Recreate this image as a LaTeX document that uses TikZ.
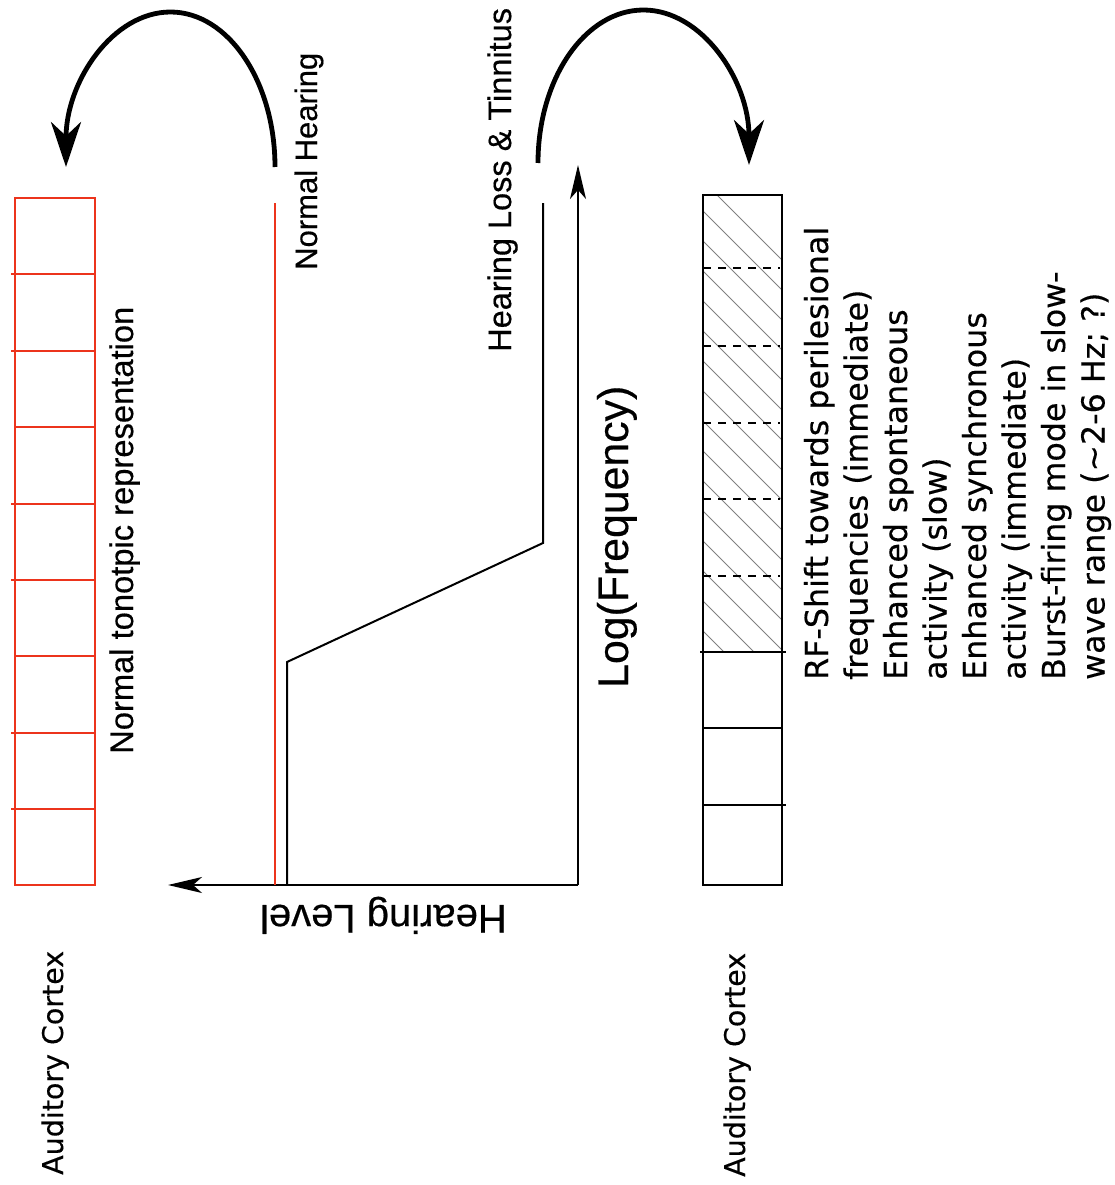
\documentclass[tikz,border=0pt]{standalone}
\usepackage{fontspec}
\setmainfont{Liberation Sans}[FakeBold=0.4]
\newfontfamily\cortexfont{DejaVu Sans}[FakeBold=0.3]
\usetikzlibrary{arrows.meta}
\definecolor{tonored}{RGB}{236,52,28}
\tikzset{
  cell/.style={tonored, line width=2pt},
  lbl/.style={inner sep=0pt, font=\fontsize{31}{37}\selectfont},
  ctx/.style={inner sep=0pt, font=\cortexfont\fontsize{28.5}{34}\selectfont},
  blk/.style={inner sep=0pt, font=\cortexfont\fontsize{31.7}{37}\selectfont},
  bigarrow/.style={line width=4.8pt, -{Stealth[length=45pt,width=30pt,inset=14pt]}},
  axis/.style={line width=1.9pt, -{Stealth[length=34pt,width=16pt,inset=9pt]}},
  hatch/.style={gray, line width=0.8pt},
  divide/.style={line width=1.7pt, dash pattern=on 8pt off 7pt},
}

\begin{document}
\begin{tikzpicture}[x=1pt, y=-1pt]
\useasboundingbox (0,0) rectangle (1115,1185);

\draw[cell] (15,198) rectangle (95,885);
\foreach \k/\s in {1/11, 2/11, 3/15, 4/11, 5/11, 6/15, 7/11, 8/11}
  \draw[cell] (\s,{198+76.375*\k}) -- (95,{198+76.375*\k});

\begin{scope}
\clip (703,195) rectangle (782,652);
\foreach \k in {0,...,16} \draw[hatch] ({717-30*\k},195) -- ++(460,460);
\end{scope}
\draw[line width=2.2pt] (703,195) rectangle (782,885);
\foreach \yy in {268, 346, 423, 499, 576} \draw[divide] (703,\yy) -- (780,\yy);
\draw[line width=2.2pt] (700,652) -- (786,652);
\draw[line width=2.2pt] (703,728) -- (782,728);
\draw[line width=2.2pt] (703,805) -- (786,805);

\coordinate (origin) at (578,885);
\coordinate (hlend) at (168,885);
\coordinate (fend) at (578,165);
\draw[axis] (origin) -- (hlend);
\draw[axis] (origin) -- (fend);

\coordinate (nhlow) at (275,885);
\coordinate (nhhigh) at (275,203);
\draw[tonored, line width=2pt] (nhlow) -- (nhhigh);
\coordinate (hllow) at (287,885);
\coordinate (hlknee) at (287,662);
\coordinate (hlbend) at (543,543);
\coordinate (hlhigh) at (543,203);
\draw[line width=2pt] (hllow) -- (hlknee) -- (hlbend) -- (hlhigh);

\coordinate (nhstart) at (275,167);
\coordinate (nhtop) at (170.5,12);
\coordinate (nhtip) at (66,167);
\draw[bigarrow] (nhstart) .. controls (275,81.4) and (228.2,12) .. (nhtop)
  .. controls (112.8,12) and (66,81.4) .. (nhtip);
\coordinate (tinstart) at (538,163);
\coordinate (tintop) at (643.5,10);
\coordinate (tintip) at (749,165);
\draw[bigarrow] (tinstart) .. controls (538,78.5) and (585.2,10) .. (tintop)
  .. controls (701.8,10) and (749,80) .. (tintip);

\node[lbl, rotate=90, anchor=base west] (nhlbl) at (317,270) {Normal Hearing};
\node[lbl, font=\fontsize{32.5}{37}\selectfont, rotate=90, anchor=base west] (tinlbl) at (511,352) {Hearing Loss \& Tinnitus};
\node[lbl, font=\fontsize{32.7}{37}\selectfont, rotate=90, anchor=base west] (tonolbl) at (133,754) {Normal tonotpic representation};
\node[lbl, font=\fontsize{42.8}{48}\selectfont, rotate=90, anchor=base west] (freqlbl) at (628,688) {Log(Frequency)};
\node[lbl, font=\fontsize{40}{48}\selectfont, rotate=180, anchor=base west] (levlbl) at (507,905) {Hearing Level};
\node[ctx, rotate=90, anchor=base west] (ctxleft) at (63,1175) {Auditory Cortex};
\node[ctx, rotate=90, anchor=base west] (ctxright) at (745,1177) {Auditory Cortex};

\foreach \t [count=\i] in {RF-Shift towards perilesional, frequencies (immediate),
  Enhanced spontaneous, activity (slow), Enhanced synchronous, activity (immediate),
  Burst-firing mode in slow-, wave range (\textasciitilde2-6 Hz; ?)}
  \node[blk, rotate=90, anchor=base west] (effect\i) at ({828+39.5*(\i-1)},680) {\t};
\end{tikzpicture}
\end{document}
